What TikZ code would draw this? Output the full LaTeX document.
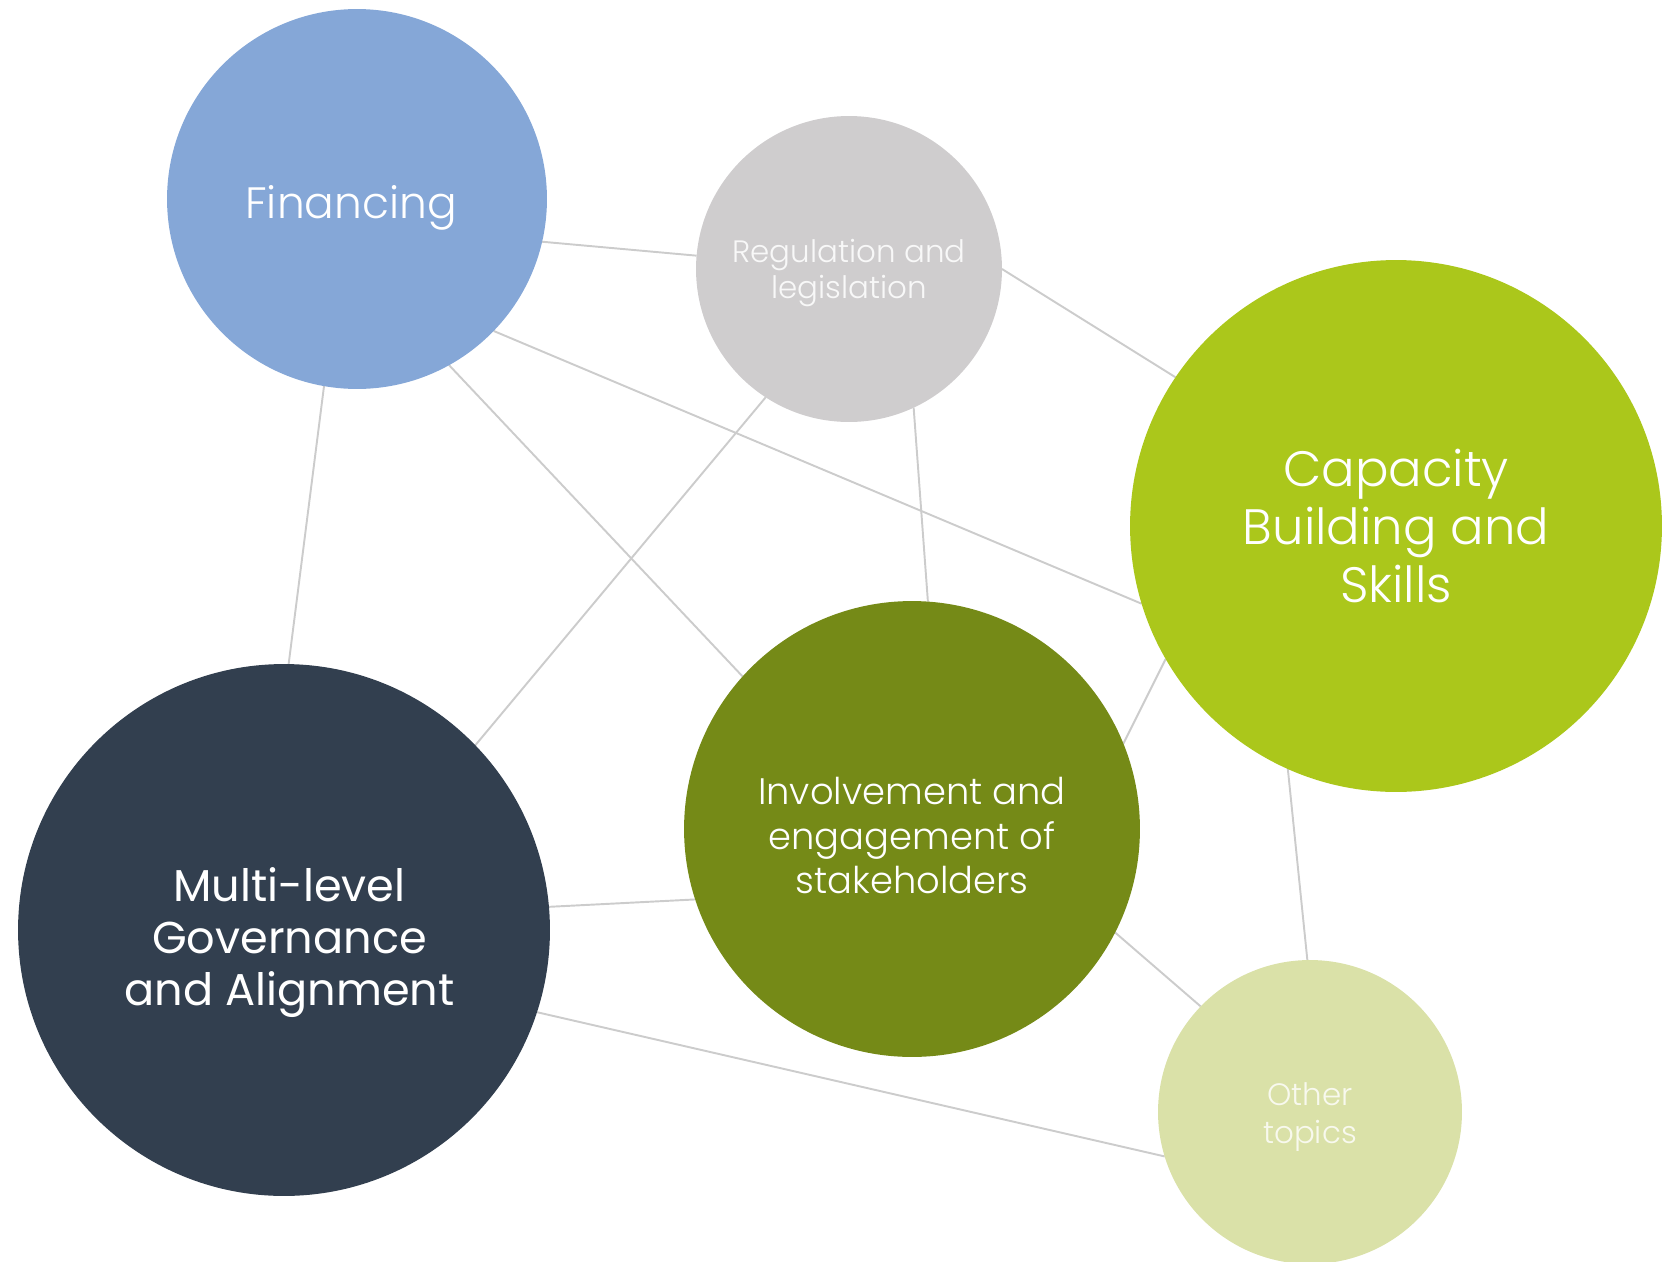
\documentclass[tikz,border=0pt]{standalone}
\usepackage{fontspec}
\setmainfont{Poppins Light}
\newfontfamily\regfont{Poppins}
\usetikzlibrary{positioning}
\pgfdeclarelayer{background}
\pgfsetlayers{background,main}

\definecolor{finblue}{HTML}{85A7D7}
\definecolor{reggray}{HTML}{CFCDCE}
\definecolor{capgreen}{HTML}{ABC71B}
\definecolor{invgreen}{HTML}{758A17}
\definecolor{mlgnavy}{HTML}{323F4F}
\definecolor{othgreen}{HTML}{DAE1A8}
\definecolor{linkgray}{HTML}{CCCCCC}

\tikzset{
  topic/.style={circle, inner sep=0pt, outer sep=0pt},
  topictext/.style={text=white, align=center, inner sep=0pt},
  link/.style={draw=linkgray, line width=1.1pt}
}

\begin{document}
\begin{tikzpicture}[x=0.02cm, y=-0.02cm]
\useasboundingbox (0,0) rectangle (1673,1261);
\clip (0,0) rectangle (1673,1261);

% topics
\node[topic, fill=finblue, minimum size=7.6cm,
  label={[topictext, xshift=-0.12cm, yshift=-0.17cm, font=\fontsize{25}{30}\selectfont]center:Financing}] (fin) at (357,199) {};
\node[topic, fill=reggray, minimum size=6.12cm,
  label={[topictext, yshift=-0.075cm, text=white!85!reggray, font=\fontsize{17.6}{20.5}\selectfont]center:Regulation and\\legislation}] (reg) at (849,269) {};
\node[topic, fill=capgreen, minimum size=10.64cm,
  label={[topictext, font=\fontsize{28.3}{33}\selectfont]center:Capacity\\Building and\\Skills}] (cap) at (1396,526) {};
\node[topic, fill=invgreen, minimum size=9.12cm,
  label={[topictext, yshift=-0.13cm, font=\fontsize{21}{25.6}\selectfont]center:Involvement and\\engagement of\\stakeholders}] (inv) at (912,829) {};
\node[topic, fill=mlgnavy, minimum size=10.64cm,
  label={[topictext, xshift=0.11cm, yshift=-0.25cm, font=\regfont\fontsize{25.4}{29.6}\selectfont]center:Multi-level\\Governance\\and Alignment}] (mlg) at (284,930) {};
\node[topic, fill=othgreen, minimum size=6.08cm,
  label={[topictext, yshift=-0.1cm, text=white!80!othgreen, font=\fontsize{17.6}{21.5}\selectfont]center:Other\\topics}] (oth) at (1310,1112) {};

% links
\begin{pgfonlayer}{background}
\draw[link] (fin.-13) -- (reg.175);
\draw[link] (fin.260) -- (mlg.89);
\draw[link] (fin.-61) -- (inv.138);
\draw[link] (fin.-44) -- (cap.197);
\draw[link] (reg.0) -- (cap.146);
\draw[link] (reg.237) -- (mlg.44);
\draw[link] (reg.-65) -- (inv.86.5);
\draw[link] (cap.210) -- (inv.22.5);
\draw[link] (cap.246.5) -- (oth.91.6);
\draw[link] (inv.-27) -- (oth.136);
\draw[link] (mlg.5.7) -- (inv.198);
\draw[link] (mlg.-18.5) -- (oth.197);
\end{pgfonlayer}
\end{tikzpicture}
\end{document}
